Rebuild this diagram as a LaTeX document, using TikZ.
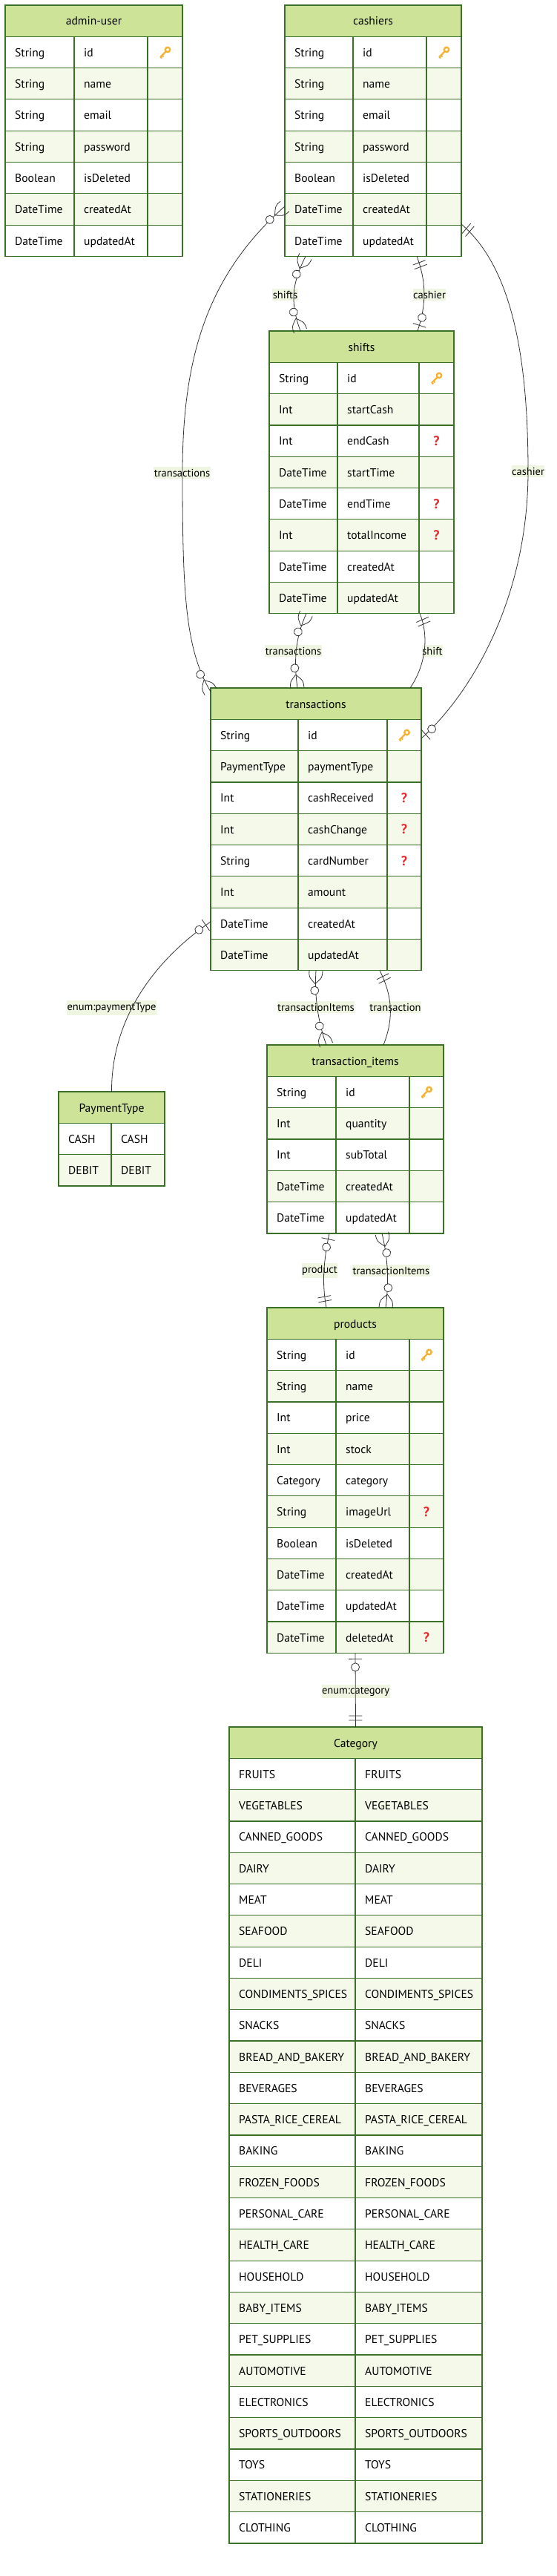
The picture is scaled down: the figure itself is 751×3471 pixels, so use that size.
\documentclass[tikz,border=0pt]{standalone}
\usepackage{fontspec}
\setmainfont{PT Sans}
\usetikzlibrary{decorations.markings}

\definecolor{erhead}{HTML}{CDE498}
\definecolor{erodd}{HTML}{F4F9EA}
\definecolor{erborder}{HTML}{3A7028}
\definecolor{erlabel}{HTML}{EEF5E0}
\definecolor{erkey}{HTML}{F5B335}
\definecolor{ernull}{HTML}{E8262B}

% marker shapes, local x points away from the table
\newcommand{\zmanymark}{%
  \draw[markline] (18,0) .. controls (9,9) .. (0,9)
                  (18,0) .. controls (9,-9) .. (0,-9);
  \draw[markline, fill=white] (27,0) circle (5.5);
}
\newcommand{\onlyonemark}{%
  \draw[markline] (9,-9) -- (9,9) (15,-9) -- (15,9);
}
\newcommand{\zonemark}{%
  \draw[markline] (8,-9) -- (8,9);
  \draw[markline, fill=white] (19,0) circle (5.5);
}

\tikzset{
  headtxt/.style={anchor=base, inner sep=0pt, font=\fontsize{15.6}{18}\selectfont},
  celltxt/.style={anchor=base west, inner sep=0pt, font=\fontsize{15.6}{18}\selectfont},
  nulltxt/.style={anchor=base, inner sep=0pt, text=ernull, font=\bfseries\fontsize{18}{20}\selectfont},
  edgetxt/.style={fill=erlabel, inner xsep=0.5pt, inner ysep=3pt, font=\fontsize{14.5}{16}\selectfont},
  erframe/.style={draw=erborder, line width=1.5pt, inner sep=0pt, outer sep=0pt, anchor=north west},
  cellline/.style={draw=erborder, line width=1.2pt},
  markline/.style={draw=black!80, line width=0.8pt},
  relline/.style={draw=black!80, line width=0.8pt},
  manyboth/.style={relline, postaction={decorate, decoration={markings,
      mark=at position 0 with {\zmanymark},
      mark=at position 1 with {\pgftransformxscale{-1}\zmanymark}}}},
  onezone/.style={relline, postaction={decorate, decoration={markings,
      mark=at position 0 with {\onlyonemark},
      mark=at position 1 with {\pgftransformxscale{-1}\zonemark}}}},
  zoneone/.style={relline, postaction={decorate, decoration={markings,
      mark=at position 0 with {\zonemark},
      mark=at position 1 with {\pgftransformxscale{-1}\onlyonemark}}}},
  keyicon/.pic={
    \draw[erkey, line width=2.4pt] (3.5,-3.5) circle (3.2);
    \draw[erkey, line width=2.4pt] (1.2,-1.2) -- (-6.5,6.5);
    \draw[erkey, line width=2pt] (-4,4) -- (-2,6) (-6.2,6.2) -- (-4.4,8);
  }
}

% #1 name, #2 title, #3 left, #4 split, #5 split, #6 right, #7 top, #8 rows, #9 type/field/mark
\newcommand{\erentity}[9]{%
  \pgfmathsetmacro\ew{#6-#3}
  \pgfmathsetmacro\eh{(#8+1)*42.3}
  \fill[erhead] (#3,#7) rectangle (#6,#7+42.3);
  \node[headtxt] at ({(#3+#6)/2},#7+27) {#2};
  \foreach \ty/\fd/\mk [count=\i] in {#9} {
    \pgfmathsetmacro\ry{#7+\i*42.3}
    \ifodd\i\else\fill[erodd] (#3,\ry) rectangle (#6,\ry+42.3);\fi
    \draw[cellline] (#3,\ry) -- (#6,\ry);
    \node[celltxt] at (#3+13,\ry+27) {\ty};
    \node[celltxt] at (#4+13,\ry+27) {\fd};
    \ifnum\mk=1 \pic at ({(#5+#6)/2},\ry+21.15) {keyicon};\fi
    \ifnum\mk=2 \node[nulltxt] at ({(#5+#6)/2},\ry+27.5) {?};\fi
  }
  \draw[cellline] (#4,#7+42.3) -- (#4,#7+\eh) (#5,#7+42.3) -- (#5,#7+\eh);
  \node[erframe, minimum width=\ew pt, minimum height=\eh pt] (#1) at (#3,#7) {};
}

% #1 name, #2 title, #3 left, #4 split, #5 right, #6 top, #7 rows, #8 values
\newcommand{\erenum}[8]{%
  \pgfmathsetmacro\ew{#5-#3}
  \pgfmathsetmacro\eh{(#7+1)*42.3}
  \fill[erhead] (#3,#6) rectangle (#5,#6+42.3);
  \node[headtxt] at ({(#3+#5)/2},#6+27) {#2};
  \foreach \vl [count=\i] in {#8} {
    \pgfmathsetmacro\ry{#6+\i*42.3}
    \ifodd\i\else\fill[erodd] (#3,\ry) rectangle (#5,\ry+42.3);\fi
    \draw[cellline] (#3,\ry) -- (#5,\ry);
    \node[celltxt] at (#3+13,\ry+27) {\vl};
    \node[celltxt] at (#4+13,\ry+27) {\vl};
  }
  \draw[cellline] (#4,#6+42.3) -- (#4,#6+\eh);
  \node[erframe, minimum width=\ew pt, minimum height=\eh pt] (#1) at (#3,#6) {};
}

\begin{document}
\begin{tikzpicture}[x=1pt, y=-1pt]
\useasboundingbox (0,0) rectangle (751,3471);

% admin-user
\erentity{adminuser}{admin-user}{7}{100}{199}{246}{7}{7}{%
  String/id/1, String/name/0, String/email/0, String/password/0,
  Boolean/isDeleted/0, DateTime/createdAt/0, DateTime/updatedAt/0}

% cashiers
\erentity{cashiers}{cashiers}{384}{476}{575}{622}{7}{7}{%
  String/id/1, String/name/0, String/email/0, String/password/0,
  Boolean/isDeleted/0, DateTime/createdAt/0, DateTime/updatedAt/0}

% shifts
\erentity{shifts}{shifts}{363}{455}{565}{612}{446}{8}{%
  String/id/1, Int/startCash/0, Int/endCash/2, DateTime/startTime/0,
  DateTime/endTime/2, Int/totalIncome/2, DateTime/createdAt/0, DateTime/updatedAt/0}

% transactions
\erentity{transactions}{transactions}{284}{402}{522}{568}{927}{8}{%
  String/id/1, PaymentType/paymentType/0, Int/cashReceived/2, Int/cashChange/2,
  String/cardNumber/2, Int/amount/0, DateTime/createdAt/0, DateTime/updatedAt/0}

% PaymentType
\erenum{paymenttype}{PaymentType}{79}{150}{222}{1471}{2}{CASH, DEBIT}

% transaction_items
\erentity{transitems}{transaction\_items}{360}{453}{552}{598}{1408}{5}{%
  String/id/1, Int/quantity/0, Int/subTotal/0, DateTime/createdAt/0, DateTime/updatedAt/0}

% products
\erentity{products}{products}{360}{453}{552}{598}{1762}{10}{%
  String/id/1, String/name/0, Int/price/0, Int/stock/0, Category/category/0,
  String/imageUrl/2, Boolean/isDeleted/0, DateTime/createdAt/0,
  DateTime/updatedAt/0, DateTime/deletedAt/2}

% Category
\erenum{category}{Category}{309}{479}{650}{2327}{25}{%
  FRUITS, VEGETABLES, CANNED\_GOODS, DAIRY, MEAT, SEAFOOD, DELI,
  CONDIMENTS\_SPICES, SNACKS, BREAD\_AND\_BAKERY, BEVERAGES,
  PASTA\_RICE\_CEREAL, BAKING, FROZEN\_FOODS, PERSONAL\_CARE, HEALTH\_CARE,
  HOUSEHOLD, BABY\_ITEMS, PET\_SUPPLIES, AUTOMOTIVE, ELECTRONICS,
  SPORTS\_OUTDOORS, TOYS, STATIONERIES, CLOTHING}

% edge labels
\node[edgetxt] (lshifts) at (384.5,397) {shifts};
\node[edgetxt] (lcashier) at (579,397) {cashier};
\node[edgetxt] (ltransleft) at (245.5,637) {transactions};
\node[edgetxt] (lcashierright) at (712,635) {cashier};
\node[edgetxt] (ltrans) at (395.5,877) {transactions};
\node[edgetxt] (lshift) at (583,877) {shift};
\node[edgetxt] (litems) at (426,1357) {transactionItems};
\node[edgetxt] (ltransaction) at (533,1357) {transaction};
\node[edgetxt] (lpay) at (150.5,1358) {enum:paymentType};
\node[edgetxt] (lproduct) at (431,1712) {product};
\node[edgetxt] (litemslow) at (527.5,1712) {transactionItems};
\node[edgetxt] (lcat) at (479.5,2279) {enum:category};

% relations
\draw[manyboth] ([xshift=28pt]cashiers.south west) .. controls (392,385) and (392,410) .. ([xshift=42pt]shifts.north west);
\draw[onezone] ([xshift=178pt]cashiers.south west) .. controls (575,380) and (575,410) .. ([xshift=200pt]shifts.north west);
\draw[manyboth] ([yshift=-271pt]cashiers.north west) .. controls (280,370) and (246,480) .. (246,637)
                .. controls (246,800) and (250,875) .. ([yshift=-5pt]transactions.north west);
\draw[onezone] ([yshift=-295pt]cashiers.north east) .. controls (690,360) and (712,480) .. (712,635)
               .. controls (712,800) and (640,930) .. ([yshift=-68pt]transactions.north east);
\draw[manyboth] ([xshift=50pt]shifts.south west) .. controls (398,860) and (396,890) .. ([xshift=117pt]transactions.north west);
\draw[onezone] ([xshift=203pt]shifts.south west) .. controls (576,850) and (578,890) .. ([xshift=269pt]transactions.north west);
\draw[manyboth] ([xshift=142pt]transactions.south west) .. controls (424,1340) and (428,1375) .. ([xshift=80pt]transitems.north west);
\draw[onezone] ([xshift=228pt]transactions.south west) .. controls (528,1340) and (532,1370) .. ([xshift=157pt]transitems.north west);
\draw[zoneone] ([yshift=-315pt]transactions.north west) .. controls (200,1300) and (150,1380) .. (paymenttype.north);
\draw[zoneone] ([xshift=84pt]transitems.south west) .. controls (436,1700) and (434,1730) .. ([xshift=80pt]products.north west);
\draw[manyboth] ([xshift=155pt]transitems.south west) .. controls (524,1700) and (524,1730) .. ([xshift=160pt]products.north west);
\draw[zoneone] (products.south) -- (category.north);
\end{tikzpicture}
\end{document}
